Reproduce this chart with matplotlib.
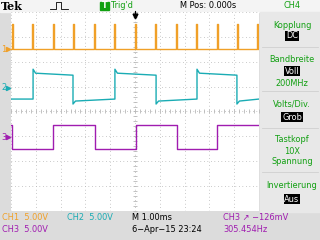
import numpy as np
import matplotlib.pyplot as plt
from matplotlib.patches import Rectangle

# time in ms (1 ms/div, 0 = trigger point), voltages in V
ch1_pulse_t = [-4.96, -4.15, -3.31, -2.50, -1.65, -0.85, 0.0, 0.81, 1.65, 2.46, 3.31, 4.11, 4.92]
ch1_base_v = 0.0
ch1_peak_v = 5.0
ch1_pulse_w = 0.03

ch2_rise_t = [-4.11, -0.81, 2.50]
ch2_fall_t = [-2.50, 0.85, 4.11]
ch2_high_v = [3.8, 3.0, 2.6]    # overshoot, settled, end of half period
ch2_low_v = [-3.2, -2.6, -2.2]

ch3_rise_t = [-3.31, 0.04, 3.31]
ch3_fall_t = [-4.96, -1.61, 1.69]
ch3_high_v = 2.4
ch3_low_v = -2.4

volts_div = 5.0
ch1_pos, ch2_pos, ch3_pos = 2.5, 0.94, -1.02   # ground markers, in div

c1, c2, c3 = '#f0a028', '#1aacb4', '#a01cb0'
green = '#12a012'

def px(x, y, w, h):
    return [x / 320, 1 - (y + h) / 240, w / 320, h / 240]

fig = plt.figure(figsize=(3.2, 2.4), dpi=100, facecolor='#dcdcdc')

# panels behind the graticule
bg = fig.add_axes([0, 0, 1, 1])
bg.set_xlim(0, 320)
bg.set_ylim(240, 0)
bg.axis('off')
bg.add_patch(Rectangle((0, 0), 320, 11.5, color='#f4f4f4'))
bg.add_patch(Rectangle((260, 11.5), 60, 200, color='#e8e8e8'))
for yy in [47, 91, 128, 172]:
    bg.plot([262, 318], [yy, yy], color='#d0d0d0', lw=0.6)

ax = fig.add_axes(px(11, 12, 248, 199))
ax.set_facecolor('white')
ax.set_xlim(-5, 5)
ax.set_ylim(-4, 4)
ax.set_xticks(np.arange(-5, 6))
ax.set_yticks(np.arange(-4, 5))
ax.tick_params(length=0, labelbottom=False, labelleft=False)
ax.grid(True, color='#b4b4b4', lw=0.7, dashes=(0.7, 2.9))
for s in ax.spines.values():
    s.set_visible(False)
# centre crosshair ticks
ticks = np.arange(-5, 5.01, 0.2)
ax.plot(ticks, np.zeros_like(ticks), ls='none', marker='|', ms=2.2, mew=0.6, color='#b8b8b8')
ticks = np.arange(-4, 4.01, 0.2)
ax.plot(np.zeros_like(ticks), ticks, ls='none', marker='_', ms=2.2, mew=0.6, color='#b8b8b8')

# CH1: narrow pulses
t1, v1 = [-5.0], [ch1_base_v]
for t in ch1_pulse_t:
    t1 += [t, t, t + ch1_pulse_w, t + ch1_pulse_w]
    v1 += [ch1_base_v, ch1_peak_v, ch1_peak_v, ch1_base_v]
t1.append(5.0)
v1.append(ch1_base_v)
ax.plot(t1, ch1_pos + np.array(v1) / volts_div, color=c1, lw=1.0)

# CH2: square wave with overshoot
edges = sorted([(t, 'h') for t in ch2_rise_t] + [(t, 'l') for t in ch2_fall_t])
t2, v2 = [-5.0], [ch2_low_v[2]]
for i, (t, kind) in enumerate(edges):
    lv = ch2_high_v if kind == 'h' else ch2_low_v
    end = edges[i + 1][0] if i + 1 < len(edges) else 5.0
    prev = v2[-1]
    t2 += [t, t, t + 0.1, end]
    v2 += [prev, lv[0], lv[1], lv[2]]
ax.plot(t2, ch2_pos + np.array(v2) / volts_div, color=c2, lw=1.0)

# CH3: clean square wave
edges = sorted([(t, ch3_high_v) for t in ch3_rise_t] + [(t, ch3_low_v) for t in ch3_fall_t])
t3, v3 = [-5.0], [ch3_high_v]
for t, lv in edges:
    t3 += [t, t]
    v3 += [v3[-1], lv]
t3.append(5.0)
v3.append(v3[-1])
ax.plot(t3, ch3_pos + np.array(v3) / volts_div, color=c3, lw=1.0)

# overlay for screen text
ov = fig.add_axes([0, 0, 1, 1])
ov.set_xlim(0, 320)
ov.set_ylim(240, 0)
ov.axis('off')

fs = 6.6
txt = dict(family='DejaVu Sans', stretch='condensed', fontsize=fs, va='center')

# top bar
ov.text(1, 6, 'Tek', family='DejaVu Serif', weight='bold', fontsize=8, va='center')
ov.plot([50, 56, 56, 61, 61, 68], [9, 9, 2, 2, 9, 9], color='black', lw=0.6)
ov.add_patch(Rectangle((100, 1.5), 8.5, 8.5, color='#10a010'))
ov.text(104.3, 6, 'T', color='white', ha='center', weight='bold', **txt)
ov.text(111, 6, "Trig'd", color=green, **txt)
ov.text(180, 6, 'M Pos: 0.000s', color='black', **txt)
ov.text(292, 6, 'CH4', color=green, ha='center', **txt)
ov.plot([135, 135], [11, 15], color='black', lw=0.8)
ov.plot([135], [15.5], marker='v', ms=3.5, color='black')

# channel ground markers
for lab, pos, c in [('1', ch1_pos, c1), ('2', ch2_pos, c2), ('3', ch3_pos, c3)]:
    ymark = 111.5 - pos * 25
    ov.text(1, ymark, lab, color=c, **txt)
    ov.plot([8], [ymark], marker='>', ms=3, color=c)

# right menu
menu = [('Kopplung', 26, False), ('DC', 36, True), ('Bandbreite', 59, False),
        ('Voll', 71, True), ('200MHz', 83, False), ('Volts/Div.', 104, False),
        ('Grob', 117, True), ('Tastkopf', 140, False), ('10X', 151, False),
        ('Spannung', 162, False), ('Invertierung', 185, False), ('Aus', 199, True)]
for s, yy, boxed in menu:
    if boxed:
        ov.text(292, yy, s, color='white', ha='center', **txt,
                bbox=dict(boxstyle='square,pad=0.1', fc='black', ec='none'))
    else:
        ov.text(292, yy, s, color=green, ha='center', **txt)

# bottom status lines
ov.text(2, 217, 'CH1  5.00V', color=c1, **txt)
ov.text(67, 217, 'CH2  5.00V', color=c2, **txt)
ov.text(132, 217, 'M 1.00ms', color='black', **txt)
ov.text(223, 217, 'CH3 \u2197 \u2212126mV', color=c3, **txt)
ov.text(2, 230, 'CH3  5.00V', color=c3, **txt)
ov.text(132, 230, '6\u2212Apr\u221215 23:24', color='black', **txt)
ov.text(223, 230, '305.454Hz', color=c3, **txt)

fig.savefig('out.png', dpi=100, facecolor=fig.get_facecolor())
